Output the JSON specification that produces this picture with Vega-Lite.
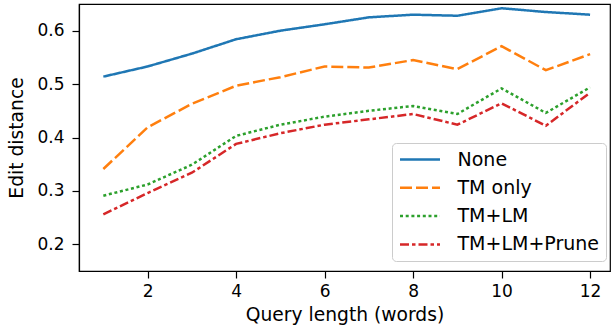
{
  "$schema": "https://vega.github.io/schema/vega-lite/v6.json",
  "width": 531,
  "height": 267,
  "autosize": {"type": "none"},
  "padding": {"left": 79, "top": 4, "right": 1, "bottom": 64},
  "config": {
    "font": "DejaVu Sans",
    "view": {"stroke": "black", "strokeWidth": 1.2},
    "axis": {
      "domainColor": "black", "tickColor": "black", "labelColor": "black", "titleColor": "black",
      "tickSize": 7, "grid": false, "labelFontSize": 17, "titleFontSize": 18.7, "titleFontWeight": "normal",
      "domainWidth": 1.2, "tickWidth": 1.2
    },
    "legend": {
      "labelFontSize": 19, "labelColor": "black", "padding": 6.5, "strokeColor": "#cccccc",
      "fillColor": "white", "cornerRadius": 4, "symbolType": "stroke", "symbolSize": 1600,
      "symbolStrokeWidth": 2.5, "rowPadding": 8.3, "clipHeight": 20, "labelOffset": 16, "labelLimit": 300
    }
  },
  "data": {
    "values": [
      {"q": 1, "s": "None", "v": 0.514}, {"q": 2, "s": "None", "v": 0.533}, {"q": 3, "s": "None", "v": 0.557},
      {"q": 4, "s": "None", "v": 0.584}, {"q": 5, "s": "None", "v": 0.600}, {"q": 6, "s": "None", "v": 0.612},
      {"q": 7, "s": "None", "v": 0.625}, {"q": 8, "s": "None", "v": 0.630}, {"q": 9, "s": "None", "v": 0.628},
      {"q": 10, "s": "None", "v": 0.642}, {"q": 11, "s": "None", "v": 0.635}, {"q": 12, "s": "None", "v": 0.630},
      {"q": 1, "s": "TM only", "v": 0.341}, {"q": 2, "s": "TM only", "v": 0.419}, {"q": 3, "s": "TM only", "v": 0.463},
      {"q": 4, "s": "TM only", "v": 0.497}, {"q": 5, "s": "TM only", "v": 0.513}, {"q": 6, "s": "TM only", "v": 0.533},
      {"q": 7, "s": "TM only", "v": 0.531}, {"q": 8, "s": "TM only", "v": 0.545}, {"q": 9, "s": "TM only", "v": 0.528},
      {"q": 10, "s": "TM only", "v": 0.571}, {"q": 11, "s": "TM only", "v": 0.526}, {"q": 12, "s": "TM only", "v": 0.556},
      {"q": 1, "s": "TM+LM", "v": 0.291}, {"q": 2, "s": "TM+LM", "v": 0.312}, {"q": 3, "s": "TM+LM", "v": 0.349},
      {"q": 4, "s": "TM+LM", "v": 0.403}, {"q": 5, "s": "TM+LM", "v": 0.424}, {"q": 6, "s": "TM+LM", "v": 0.439},
      {"q": 7, "s": "TM+LM", "v": 0.450}, {"q": 8, "s": "TM+LM", "v": 0.459}, {"q": 9, "s": "TM+LM", "v": 0.444},
      {"q": 10, "s": "TM+LM", "v": 0.492}, {"q": 11, "s": "TM+LM", "v": 0.446}, {"q": 12, "s": "TM+LM", "v": 0.494},
      {"q": 1, "s": "TM+LM+Prune", "v": 0.256}, {"q": 2, "s": "TM+LM+Prune", "v": 0.296}, {"q": 3, "s": "TM+LM+Prune", "v": 0.334},
      {"q": 4, "s": "TM+LM+Prune", "v": 0.388}, {"q": 5, "s": "TM+LM+Prune", "v": 0.408}, {"q": 6, "s": "TM+LM+Prune", "v": 0.424},
      {"q": 7, "s": "TM+LM+Prune", "v": 0.434}, {"q": 8, "s": "TM+LM+Prune", "v": 0.444}, {"q": 9, "s": "TM+LM+Prune", "v": 0.424},
      {"q": 10, "s": "TM+LM+Prune", "v": 0.464}, {"q": 11, "s": "TM+LM+Prune", "v": 0.422}, {"q": 12, "s": "TM+LM+Prune", "v": 0.484}
    ]
  },
  "mark": {"type": "line", "strokeWidth": 2.5, "strokeCap": "butt"},
  "encoding": {
    "x": {
      "field": "q", "type": "quantitative",
      "scale": {"domain": [0.45, 12.45], "nice": false, "zero": false},
      "axis": {"values": [2, 4, 6, 8, 10, 12], "title": "Query length (words)", "labelPadding": 5, "titlePadding": 6}
    },
    "y": {
      "field": "v", "type": "quantitative",
      "scale": {"domain": [0.15, 0.65], "nice": false, "zero": false},
      "axis": {"values": [0.2, 0.3, 0.4, 0.5, 0.6], "format": ".1f", "title": "Edit distance", "labelPadding": 8, "titlePadding": 10}
    },
    "color": {
      "field": "s", "type": "nominal",
      "scale": {"domain": ["None", "TM only", "TM+LM", "TM+LM+Prune"], "range": ["#1f77b4", "#ff7f0e", "#2ca02c", "#d62728"]},
      "legend": {"title": null, "orient": "none", "legendX": 313, "legendY": 139}
    },
    "strokeDash": {
      "field": "s", "type": "nominal",
      "scale": {"domain": ["None", "TM only", "TM+LM", "TM+LM+Prune"], "range": [[1, 0], [12, 4], [3, 2.7], [9, 3, 3.5, 3]]},
      "legend": {"title": null, "orient": "none", "legendX": 313, "legendY": 139}
    }
  }
}
